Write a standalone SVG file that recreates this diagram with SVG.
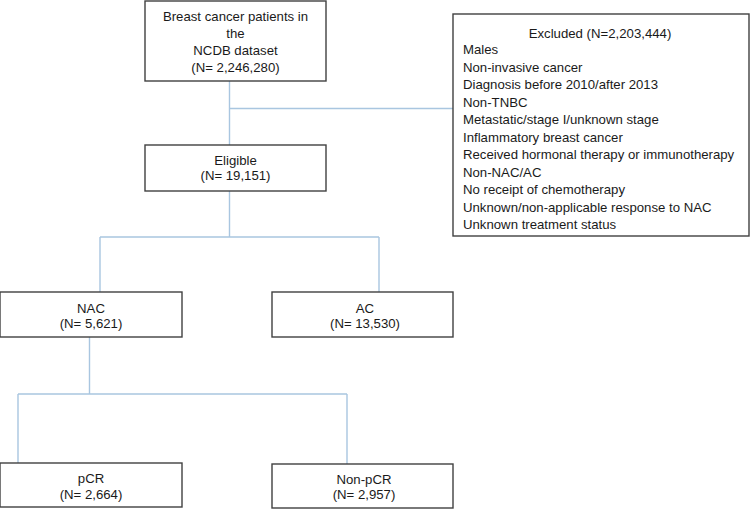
<svg xmlns="http://www.w3.org/2000/svg" width="750" height="510" viewBox="0 0 750 510">
<style>
.box{fill:#fff;stroke:#404040;stroke-width:1.4}
.t{font-family:"Liberation Sans",Arial,sans-serif;font-size:13.2px;fill:#1a1a1a}
.c{text-anchor:middle}
.ln{fill:none;stroke:#a9c6e0;stroke-width:1.4}
</style>
<rect width="750" height="510" fill="#fff"/>
<g id="connectors">
<path class="ln" d="M229.5 81V145M229.5 108.5H453"/>
<path class="ln" d="M229.5 191V237M100 237H379M100 237V292M379 237V292"/>
<path class="ln" d="M89.5 337V394M18 394H347M18 394V463M347 394V464"/>
</g>
<g id="n_top">
<rect class="box" x="145" y="1" width="181" height="80"/>
<text class="t c" x="235.5" y="21">Breast cancer patients in</text>
<text class="t c" x="235.5" y="38">the</text>
<text class="t c" x="235.5" y="55">NCDB dataset</text>
<text class="t c" x="235.5" y="72">(N= 2,246,280)</text>
</g>
<g id="n_excluded">
<rect class="box" x="453" y="14" width="296" height="222"/>
<text class="t c" x="600" y="38">Excluded (N=2,203,444)</text>
<text class="t" x="463" y="54">Males</text>
<text class="t" x="463" y="71.5">Non-invasive cancer</text>
<text class="t" x="463" y="89">Diagnosis before 2010/after 2013</text>
<text class="t" x="463" y="106.5">Non-TNBC</text>
<text class="t" x="463" y="124">Metastatic/stage I/unknown stage</text>
<text class="t" x="463" y="141.5">Inflammatory breast cancer</text>
<text class="t" x="463" y="159">Received hormonal therapy or immunotherapy</text>
<text class="t" x="463" y="176.5">Non-NAC/AC</text>
<text class="t" x="463" y="194">No receipt of chemotherapy</text>
<text class="t" x="463" y="211.5">Unknown/non-applicable response to NAC</text>
<text class="t" x="463" y="229">Unknown treatment status</text>
</g>
<g id="n_eligible">
<rect class="box" x="145" y="145" width="181" height="46"/>
<text class="t c" x="235.5" y="164.5">Eligible</text>
<text class="t c" x="235.5" y="180">(N= 19,151)</text>
</g>
<g id="n_nac">
<rect class="box" x="0" y="292" width="182" height="45"/>
<text class="t c" x="91" y="312.5">NAC</text>
<text class="t c" x="91" y="328">(N= 5,621)</text>
</g>
<g id="n_ac">
<rect class="box" x="272" y="292" width="181" height="45"/>
<text class="t c" x="365" y="312.5">AC</text>
<text class="t c" x="365" y="328">(N= 13,530)</text>
</g>
<g id="n_pcr">
<rect class="box" x="0" y="463" width="182" height="44"/>
<text class="t c" x="91" y="483">pCR</text>
<text class="t c" x="91" y="498.5">(N= 2,664)</text>
</g>
<g id="n_nonpcr">
<rect class="box" x="272" y="464" width="181" height="44"/>
<text class="t c" x="364" y="483.5">Non-pCR</text>
<text class="t c" x="364" y="499">(N= 2,957)</text>
</g>
</svg>
